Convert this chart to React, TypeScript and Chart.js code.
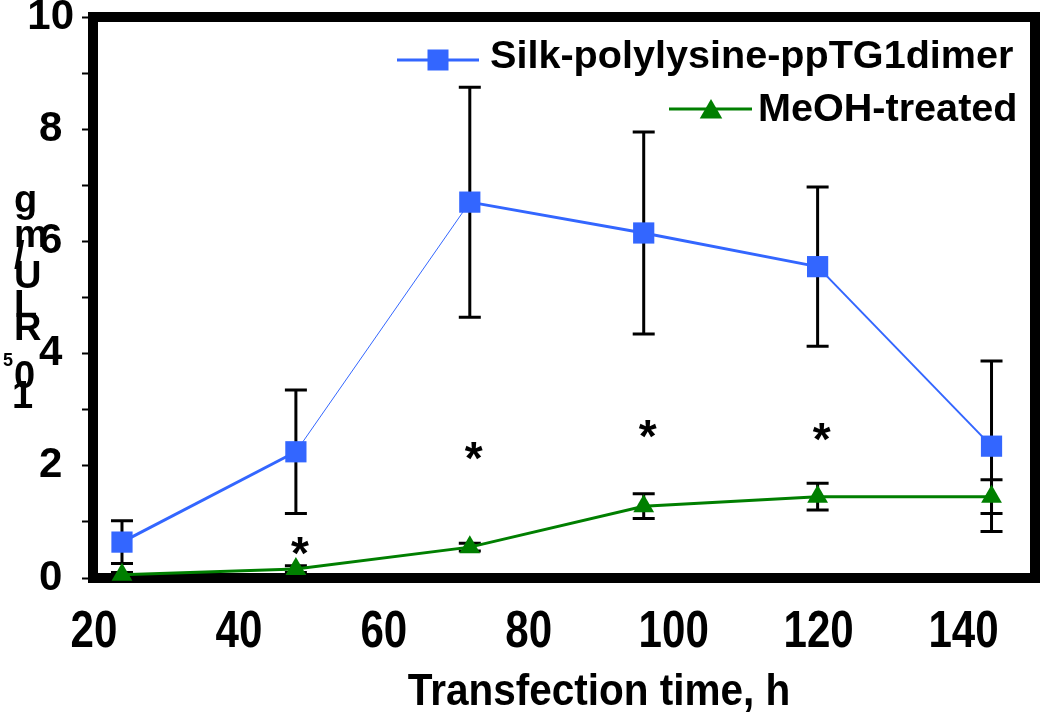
import React, { useEffect, useRef } from 'react';
import { Chart, registerables } from 'chart.js';

Chart.register(...registerables);

// ---------- data ----------
const hours = [24, 48, 72, 96, 120, 144];
const silkValues = [0.64, 2.25, 6.7, 6.15, 5.55, 2.35];
const silkErrors = [0.38, 1.1, 2.05, 1.8, 1.42, 1.52];
const meohValues = [0.06, 0.16, 0.55, 1.28, 1.45, 1.45];
const meohErrors = [0.04, 0.06, 0.07, 0.22, 0.24, 0.3];
const starHours = [48, 72, 96, 120];
const starLevels = [0.55, 2.25, 2.64, 2.58];
const xTickValues = [20, 40, 60, 80, 100, 120, 140];
const yTickValues = [0, 1, 2, 3, 4, 5, 6, 7, 8, 9, 10];
const yTickLabels = [0, 2, 4, 6, 8, 10];
const seriesNames = ['Silk-polylysine-ppTG1dimer', 'MeOH-treated'];
const xTitle = 'Transfection time, h';
const yTitleGlyphs = ['g', 'm', '/', 'U', 'L', 'R', '5', '0', '1'];

// ---------- styles ----------
const BLUE = '#3366FF';
const GREEN = '#007F00';
const silkSegmentWidths = [3, 1, 3, 3, 2];
const SANS = "'Liberation Sans', Arial, Helvetica, sans-serif";
// placement of the (broken) stacked y-axis title glyphs: [x, baseline, size]
const yTitleLayout: [number, number, number][] = [
  [14, 212, 38],
  [14, 247, 38],
  [14, 268, 38],
  [14, 288, 38],
  [14, 317, 38],
  [14, 340, 38],
  [3, 366, 18],
  [14, 388, 38],
  [12, 408, 38],
];

function drawTriangle(ctx: CanvasRenderingContext2D, x: number, y: number, r: number) {
  ctx.beginPath();
  ctx.moveTo(x, y - r);
  ctx.lineTo(x + Math.sin(Math.PI / 3) * r, y + 0.5 * r);
  ctx.lineTo(x - Math.sin(Math.PI / 3) * r, y + 0.5 * r);
  ctx.closePath();
  ctx.fill();
}

function condensedText(ctx: CanvasRenderingContext2D, text: string, x: number, y: number, sx: number) {
  ctx.save();
  ctx.translate(x, y);
  ctx.scale(sx, 1);
  ctx.fillText(text, 0, 0);
  ctx.restore();
}

const decorPlugin = {
  id: 'decor',
  beforeDatasetsDraw(chart: any) {
    const { ctx, chartArea: a, scales } = chart;
    const xs = scales.x;
    const ys = scales.y;
    ctx.save();
    // frame
    ctx.strokeStyle = '#000';
    ctx.lineWidth = 10;
    ctx.strokeRect(a.left, a.top, a.right - a.left, a.bottom - a.top);
    // error bars
    ctx.lineWidth = 3;
    const drawErr = (vals: number[], errs: number[]) => {
      for (let i = 0; i < hours.length; i++) {
        const px = xs.getPixelForValue(hours[i]);
        const yt = ys.getPixelForValue(vals[i] + errs[i]);
        const yb = ys.getPixelForValue(Math.max(0, vals[i] - errs[i]));
        ctx.beginPath();
        ctx.moveTo(px, yt);
        ctx.lineTo(px, yb);
        ctx.moveTo(px - 11, yt);
        ctx.lineTo(px + 11, yt);
        ctx.moveTo(px - 11, yb);
        ctx.lineTo(px + 11, yb);
        ctx.stroke();
      }
    };
    drawErr(silkValues, silkErrors);
    drawErr(meohValues, meohErrors);
    ctx.restore();
  },
  afterDraw(chart: any) {
    const { ctx, scales } = chart;
    const xs = scales.x;
    const ys = scales.y;
    ctx.save();
    ctx.fillStyle = '#000';
    // x tick labels (condensed bold, as in the reference)
    ctx.font = `bold 52px ${SANS}`;
    ctx.textAlign = 'center';
    ctx.textBaseline = 'alphabetic';
    for (const v of xTickValues) {
      condensedText(ctx, String(v), xs.getPixelForValue(v) + 1, 647, 0.81);
    }
    // x axis title
    ctx.font = `bold 45px ${SANS}`;
    condensedText(ctx, xTitle, 599, 705, 0.9);
    // asterisks
    const starSize = 46;
    ctx.font = `bold ${starSize}px ${SANS}`;
    for (let i = 0; i < starHours.length; i++) {
      const px = xs.getPixelForValue(starHours[i]);
      const py = ys.getPixelForValue(starLevels[i]);
      ctx.fillText('*', px + 4, py + 0.48 * starSize);
    }
    // legend
    ctx.lineWidth = 3;
    ctx.strokeStyle = BLUE;
    ctx.beginPath();
    ctx.moveTo(397, 60);
    ctx.lineTo(479, 60);
    ctx.stroke();
    ctx.fillStyle = BLUE;
    ctx.fillRect(438 - 10.5, 60 - 10.5, 21, 21);
    ctx.strokeStyle = GREEN;
    ctx.beginPath();
    ctx.moveTo(669, 109);
    ctx.lineTo(752, 109);
    ctx.stroke();
    ctx.fillStyle = GREEN;
    drawTriangle(ctx, 711, 112, 13);
    ctx.fillStyle = '#000';
    ctx.font = `bold 39.6px ${SANS}`;
    ctx.textAlign = 'left';
    ctx.textBaseline = 'middle';
    ctx.fillText(seriesNames[0], 490, 57);
    ctx.fillText(seriesNames[1], 758, 110);
    // stacked y-axis title glyphs
    ctx.textBaseline = 'alphabetic';
    for (let i = 0; i < yTitleGlyphs.length; i++) {
      const [gx, gy, gs] = yTitleLayout[i];
      ctx.font = `bold ${gs}px ${SANS}`;
      ctx.fillText(yTitleGlyphs[i], gx, gy);
    }
    ctx.restore();
  },
};

export default function App() {
  const canvasRef = useRef<HTMLCanvasElement | null>(null);

  useEffect(() => {
    if (!canvasRef.current) return;
    const chart = new Chart(canvasRef.current, {
      type: 'line',
      data: {
        datasets: [
          {
            label: seriesNames[0],
            data: hours.map((h, i) => ({ x: h, y: silkValues[i] })),
            borderColor: BLUE,
            backgroundColor: BLUE,
            borderWidth: 3,
            pointStyle: 'rect',
            pointRadius: 15,
            pointHoverRadius: 15,
            pointBorderWidth: 0,
            tension: 0,
            clip: false as any,
            segment: {
              borderWidth: (c: any) => silkSegmentWidths[c.p0DataIndex],
            },
          },
          {
            label: seriesNames[1],
            data: hours.map((h, i) => ({ x: h, y: meohValues[i] })),
            borderColor: GREEN,
            backgroundColor: GREEN,
            borderWidth: 3,
            pointStyle: 'triangle',
            pointRadius: 12,
            pointHoverRadius: 12,
            pointBorderWidth: 0,
            tension: 0,
            clip: false as any,
          },
        ],
      },
      options: {
        animation: false,
        responsive: false,
        maintainAspectRatio: false,
        events: [],
        layout: { padding: { top: 17, right: 8, left: 0, bottom: 0 } },
        plugins: {
          legend: { display: false },
          tooltip: { enabled: false },
          title: { display: false },
        },
        scales: {
          x: {
            type: 'linear',
            min: 20,
            max: 150,
            afterBuildTicks: (s: any) => {
              s.ticks = xTickValues.map((v) => ({ value: v }));
            },
            ticks: { display: false },
            grid: { display: false },
            border: { display: false },
            title: { display: false, text: xTitle },
            afterFit: (s: any) => {
              s.height = 137;
              s.paddingLeft = 0;
              s.paddingRight = 0;
            },
          },
          y: {
            type: 'linear',
            min: 0,
            max: 10,
            afterBuildTicks: (s: any) => {
              s.ticks = yTickValues.map((v) => ({ value: v }));
            },
            ticks: {
              color: '#000',
              font: { family: SANS, weight: 'bold', size: 42 },
              padding: 8,
              crossAlign: 'center',
              autoSkip: false,
              callback: (v: any) => (yTickLabels.includes(Number(v)) ? String(v) : ''),
            },
            grid: {
              drawOnChartArea: false,
              drawTicks: true,
              tickLength: 11,
              tickWidth: 2,
              tickColor: '#000',
            },
            border: { display: false },
            afterFit: (s: any) => {
              s.width = 93;
              s.paddingTop = 0;
              s.paddingBottom = 0;
            },
          },
        },
      } as any,
      plugins: [decorPlugin],
    });
    return () => chart.destroy();
  }, []);

  return (
    <div style={{ position: 'fixed', left: 0, top: 0, width: 1050, height: 715, background: '#fff' }}>
      <canvas ref={canvasRef} width={1050} height={715} style={{ display: 'block' }} />
    </div>
  );
}
